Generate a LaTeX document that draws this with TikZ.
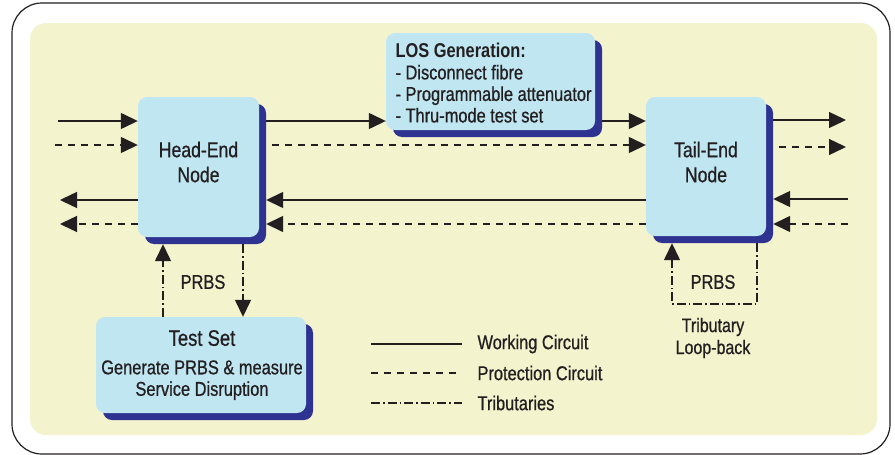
\documentclass[tikz,border=0pt]{standalone}
\usepackage{fontspec}
\setmainfont{Liberation Sans}[FakeStretch=0.82, UprightFeatures={FakeBold=0.7}]
\usetikzlibrary{arrows.meta,shadows,calc}
\definecolor{panel}{RGB}{243,243,206}
\definecolor{boxfill}{RGB}{192,230,242}
\definecolor{shade}{RGB}{46,50,145}
\definecolor{ink}{RGB}{35,31,32}
\pgfdeclarelayer{bg}
\pgfdeclarelayer{wires}
\pgfsetlayers{bg,wires,main}

\begin{document}
\begin{tikzpicture}[x=1pt,y=-1pt,
  box/.style={fill=boxfill, draw=none, rounded corners=9pt, inner sep=0pt,
    copy shadow={shadow xshift=7pt, shadow yshift=-7pt, fill=shade, draw=none}},
  bodytxt/.style={text=ink, font=\fontsize{20}{21.5}\selectfont},
  titletxt/.style={text=ink, align=center, font=\fontsize{21.5}{25}\selectfont},
  wire/.style={draw=ink, line width=1.4pt},
  wk/.style={wire},
  pr/.style={wire, dash pattern=on 7pt off 6pt},
  tb/.style={wire, dash pattern=on 9pt off 3pt on 1.5pt off 3pt},
  arr/.style={-{Triangle[length=17pt,width=16pt]}},
]
\useasboundingbox (0,0) rectangle (895,455);

% frame and panel
\begin{pgfonlayer}{bg}
  \draw[ink, line width=1.2pt, rounded corners=30pt] (12,3) rectangle (890,454);
  \fill[panel, rounded corners=16pt] (30,23) rectangle (877,435);
\end{pgfonlayer}

% boxes
\node[box, minimum width=121pt, minimum height=140pt] (head) at (198.5,167) {};
\node[titletxt] (headtxt) at (198.5,162) {Head-End\\Node};

\node[box, minimum width=120pt, minimum height=139pt] (tail) at (706,166.5) {};
\node[titletxt] (tailtxt) at (706,162) {Tail-End\\Node};

\node[box, minimum width=209pt, minimum height=97pt] (los) at (490.5,81.5) {};
\node[bodytxt, align=left, anchor=west] (lostxt) at (392,83)
  {\textbf{LOS Generation:}\\- Disconnect fibre\\- Programmable attenuator\\- Thru-mode test set};

\node[box, minimum width=210pt, minimum height=96pt] (test) at (201,365) {};
\node[bodytxt, align=center] (testtxt) at (202,365)
  {{\fontsize{22.5}{24}\selectfont Test Set}\\[7pt]Generate PRBS \& measure\\Service Disruption};

% shadow edges
\coordinate (headR) at ([xshift=7pt]head.east);
\coordinate (headB) at ([yshift=-7pt]head.south);
\coordinate (tailR) at ([xshift=7pt]tail.east);
\coordinate (tailB) at ([yshift=-7pt]tail.south);

% free ends
\coordinate (inW) at (58,121);
\coordinate (inP) at (55,145);
\coordinate (outW) at (60,200);
\coordinate (outP) at (60,224);
\coordinate (tW) at (846,120);
\coordinate (tP) at (846,147);
\coordinate (rW) at (848,199);
\coordinate (rP) at (848,224);

\begin{pgfonlayer}{wires}
  % left of head-end
  \draw[wk,arr] (inW) -- (inW -| head.west);
  \draw[pr,arr] (inP) -- (inP -| head.west);
  \draw[wk,arr] (head.west |- outW) -- (outW);
  \draw[pr,arr] (head.west |- outP) -- (outP);
  % between the nodes
  \draw[wk,arr] (head.east |- inW) -- (los.west |- inW);
  \draw[wk,arr] (los.east |- inW) -- (tail.west |- inW);
  \draw[pr,arr] (head.east |- inP) -- (tail.west |- inP);
  \draw[wk,arr] (tail.west |- outW) -- (headR |- outW);
  \draw[pr,arr] (tail.west |- outP) -- (headR |- outP);
  % right of tail-end
  \draw[wk,arr] (tail.east |- tW) -- (tW);
  \draw[pr,arr] (tail.east |- tP) -- (tP);
  \draw[wk,arr] (rW) -- (tailR |- rW);
  \draw[pr,arr] (rP) -- (tailR |- rP);
  % PRBS paths
  \draw[tb,arr] (test.north -| 163,0) -- (headB -| 163,0);
  \draw[tb,arr] (headB -| 243,0) -- (test.north -| 243,0);
  \draw[tb,arr] (tailB -| 757,0) -- (757,304) -- (672,304) -- (tailB -| 672,0);
\end{pgfonlayer}

\node[bodytxt] (prbs1) at (203,282) {PRBS};
\node[bodytxt] (prbs2) at (713,282) {PRBS};
\node[bodytxt, align=center, font=\fontsize{19.5}{22}\selectfont] (loop) at (713,338) {Tributary\\Loop-back};

% legend
\coordinate (lgW) at (371,344);
\coordinate (lgP) at (371,373);
\coordinate (lgT) at (371,403);
\draw[wk] (lgW) -- ++(91,0);
\draw[pr] (lgP) -- ++(91,0);
\draw[tb] (lgT) -- ++(91,0);
\node[bodytxt, anchor=west] (lgWt) at (474,344) {Working Circuit};
\node[bodytxt, anchor=west] (lgPt) at (474,373) {Protection Circuit};
\node[bodytxt, anchor=west] (lgTt) at (474,403) {Tributaries};
\end{tikzpicture}
\end{document}
